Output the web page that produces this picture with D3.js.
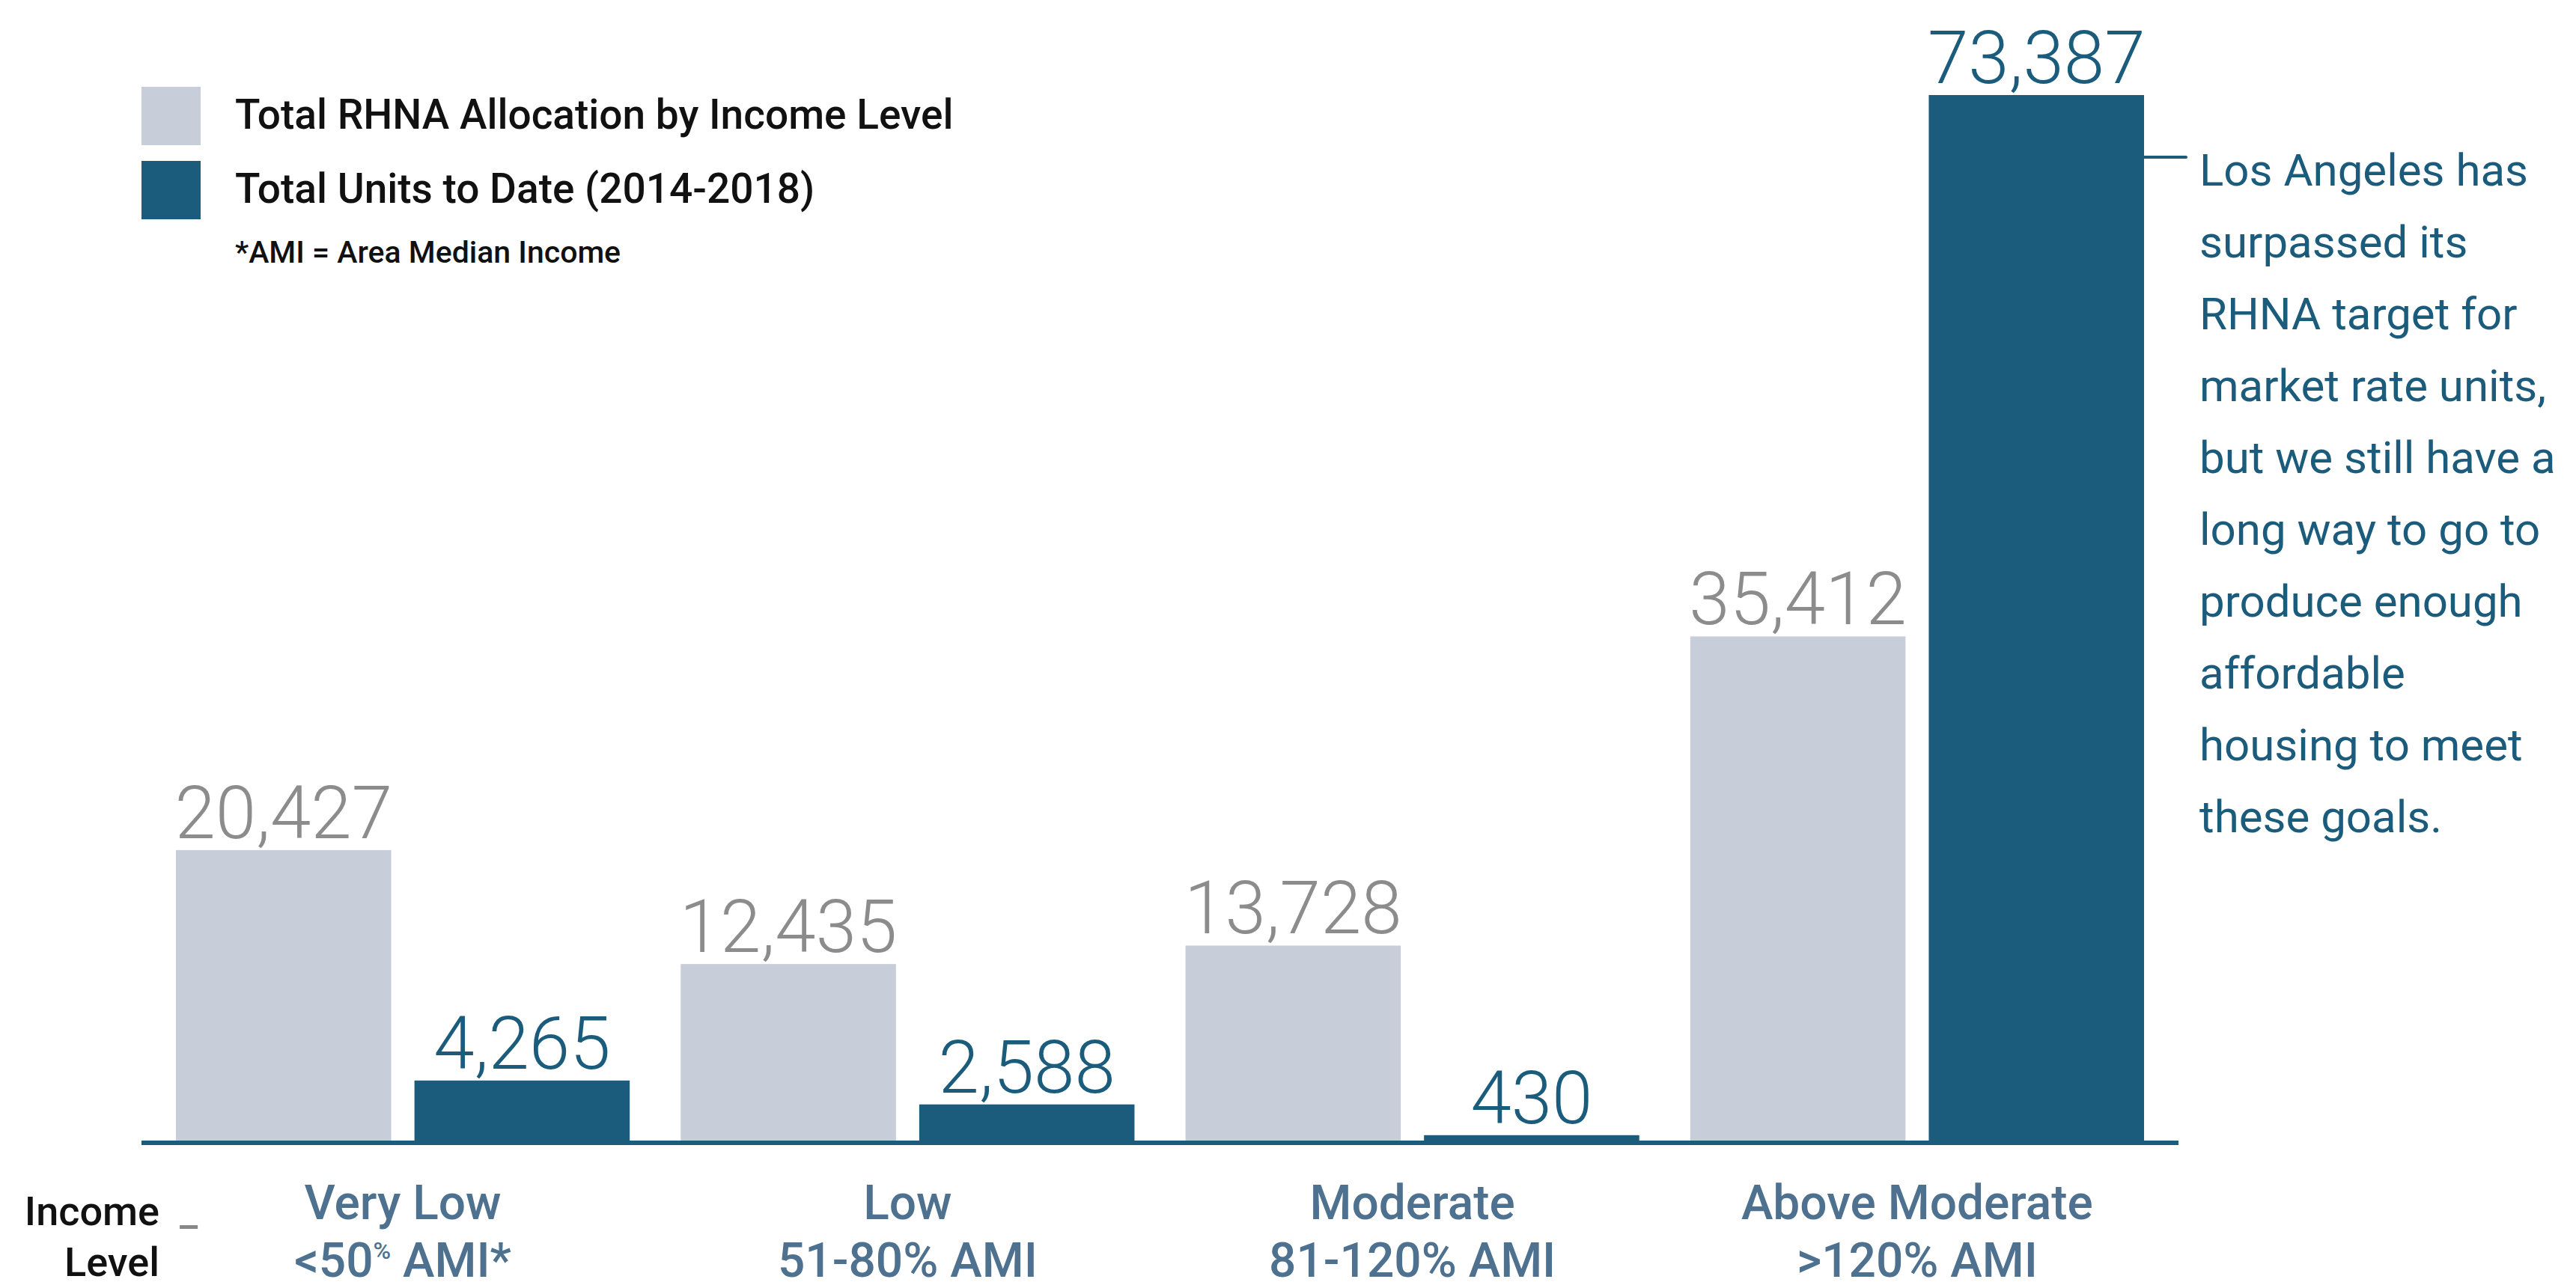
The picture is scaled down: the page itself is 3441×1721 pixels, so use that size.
<!DOCTYPE html>
<html>
<head>
<meta charset="utf-8">
<script src="https://cdn.jsdelivr.net/npm/d3@7"></script>
<style>
  html, body { margin: 0; padding: 0; background: #ffffff; }
  svg { display: block; font-family: Roboto, "Noto Sans", sans-serif; }
</style>
</head>
<body>
<svg id="chart" width="3441" height="1721"></svg>
<script>
// Income categories and their AMI ranges
const categories = ["Very Low", "Low", "Moderate", "Above Moderate"];
const amiRanges = ["<50", "51-80", "81-120", ">120"];
const amiSuffix = ["% AMI*", "% AMI", "% AMI", "% AMI"];

// Series
const seriesNames = ["Total RHNA Allocation by Income Level", "Total Units to Date (2014-2018)"];
const rhnaAllocation = [20427, 12435, 13728, 35412];
const unitsToDate = [4265, 2588, 430, 73387];

const noteLines = [
  "Los Angeles has",
  "surpassed its",
  "RHNA target for",
  "market rate units,",
  "but we still have a",
  "long way to go to",
  "produce enough",
  "affordable",
  "housing to meet",
  "these goals."
];

const lightFill = "#c7ceda";
const darkFill = "#1b5c7c";
const lightLabel = "#8c8c8c";
const catColor = "#4f7190";

const svg = d3.select("#chart");

const baseY = 1525;
const x0 = d3.scaleBand().domain(categories).range([235, 2864]).paddingInner(0.101).paddingOuter(0);
const x1 = d3.scaleBand().domain([0, 1]).range([0, x0.bandwidth()]).paddingInner(0.0975);
const y = d3.scaleLinear().domain([0, d3.max(rhnaAllocation.concat(unitsToDate))]).range([baseY, 127]);

const fmt = d3.format(",");

const rows = categories.map((c, i) => ({ cat: c, values: [rhnaAllocation[i], unitsToDate[i]] }));

const groups = svg.selectAll("g.cat").data(rows).join("g")
  .attr("class", "cat")
  .attr("transform", d => `translate(${x0(d.cat)},0)`);

groups.selectAll("rect").data(d => d.values.map((v, k) => ({ v, k }))).join("rect")
  .attr("x", d => x1(d.k))
  .attr("y", d => y(d.v))
  .attr("width", x1.bandwidth())
  .attr("height", d => baseY - y(d.v))
  .attr("fill", d => d.k === 0 ? lightFill : darkFill);

groups.selectAll("text.val").data(d => d.values.map((v, k) => ({ v, k }))).join("text")
  .attr("class", "val")
  .attr("x", d => x1(d.k) + x1.bandwidth() / 2)
  .attr("y", d => y(d.v) - 16)
  .attr("text-anchor", "middle")
  .attr("font-size", 98)
  .attr("font-weight", 300)
  .attr("fill", d => d.k === 0 ? lightLabel : darkFill)
  .text(d => fmt(d.v));

// Baseline
svg.append("line")
  .attr("x1", 189).attr("x2", 2910)
  .attr("y1", baseY + 2).attr("y2", baseY + 2)
  .attr("stroke", darkFill).attr("stroke-width", 6);

// Category labels
const catLabels = svg.selectAll("g.catlabel").data(categories).join("g")
  .attr("class", "catlabel")
  .attr("transform", d => `translate(${x0(d) + x0.bandwidth() / 2},0)`)
  .attr("fill", catColor)
  .attr("font-weight", 500)
  .attr("font-size", 64)
  .attr("text-anchor", "middle");

catLabels.append("text").attr("y", 1629).text(d => d);

catLabels.append("text").attr("y", 1706)
  .each(function (d, i) {
    const t = d3.select(this);
    t.append("tspan").text(amiRanges[i]);
    if (i === 0) {
      t.append("tspan").attr("font-size", 32).attr("dy", -24).text("%");
      t.append("tspan").attr("dy", 24).text(amiSuffix[i].slice(1));
    } else {
      t.append("tspan").text(amiSuffix[i]);
    }
  });

// Axis title
svg.append("text").attr("x", 213).attr("y", 1637).attr("text-anchor", "end")
  .attr("font-size", 54).attr("font-weight", 500).attr("fill", "#111").text("Income");
svg.append("text").attr("x", 213).attr("y", 1705).attr("text-anchor", "end")
  .attr("font-size", 54).attr("font-weight", 500).attr("fill", "#111").text("Level");
svg.append("text").attr("x", 240).attr("y", 1637)
  .attr("font-size", 54).attr("font-weight", 500).attr("fill", "#888").text("_");

// Legend
const legend = svg.append("g");
const legendRows = [
  { name: seriesNames[0], fill: lightFill, y: 116 },
  { name: seriesNames[1], fill: darkFill, y: 215 }
];
legend.selectAll("rect").data(legendRows).join("rect")
  .attr("x", 189).attr("y", d => d.y).attr("width", 79).attr("height", 78)
  .attr("fill", d => d.fill);
legend.selectAll("text").data(legendRows).join("text")
  .attr("x", 314).attr("y", d => d.y + 56)
  .attr("font-size", 55).attr("font-weight", 500).attr("fill", "#111")
  .text(d => d.name);
svg.append("text").attr("x", 314).attr("y", 351)
  .attr("font-size", 41).attr("font-weight", 500).attr("fill", "#111")
  .text("*AMI = Area Median Income");

// Annotation
const lastX = x0(categories[3]) + x1(1) + x1.bandwidth();
svg.append("line")
  .attr("x1", lastX).attr("x2", 2920)
  .attr("y1", 210).attr("y2", 210)
  .attr("stroke", darkFill).attr("stroke-width", 4).attr("stroke-linecap", "round");

svg.append("g").selectAll("text").data(noteLines).join("text")
  .attr("x", 2938).attr("y", (d, i) => 248 + i * 96)
  .attr("font-size", 60).attr("font-weight", 400).attr("fill", darkFill)
  .text(d => d);
</script>
</body>
</html>
